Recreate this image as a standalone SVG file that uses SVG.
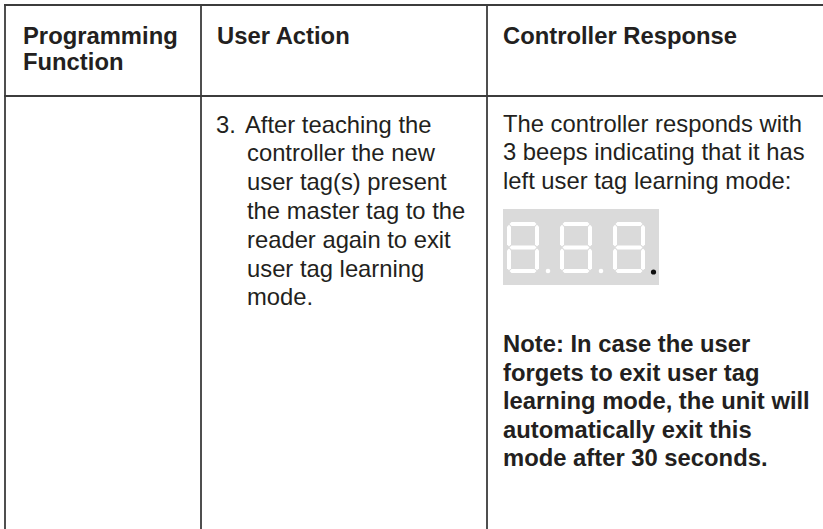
<svg xmlns="http://www.w3.org/2000/svg" width="823" height="529" viewBox="0 0 823 529">
<style>
  .grid line { stroke: #3c3c3c; stroke-width: 1.8; }
  .t { font-family: "Liberation Sans", Arial, sans-serif; font-size: 23.8px; fill: #231f20; }
  .b { font-weight: bold; }
  .seg { fill: #ffffff; }
</style>
<defs>
  <g id="digit8">
    <polygon class="seg" points="2.5,2 4.5,0 27.5,0 29.5,2 27.5,4 4.5,4"/>
    <polygon class="seg" points="2,2.8 4,4.8 4,22.5 2,24.5 0,22.5 0,4.8"/>
    <polygon class="seg" points="30,2.8 32,4.8 32,22.5 30,24.5 28,22.5 28,4.8"/>
    <polygon class="seg" points="2.5,25.5 4.5,23.5 27.5,23.5 29.5,25.5 27.5,27.5 4.5,27.5"/>
    <polygon class="seg" points="2,26.5 4,28.5 4,46.2 2,48.2 0,46.2 0,28.5"/>
    <polygon class="seg" points="30,26.5 32,28.5 32,46.2 30,48.2 28,46.2 28,28.5"/>
    <polygon class="seg" points="2.5,49 4.5,47 27.5,47 29.5,49 27.5,51 4.5,51"/>
  </g>
</defs>
<rect width="823" height="529" fill="#ffffff"/>
<g id="connectors" class="grid">
  <line x1="4" y1="5" x2="823" y2="5"/>
  <line x1="4" y1="96" x2="823" y2="96"/>
  <line x1="5" y1="5" x2="5" y2="529"/>
  <line x1="201" y1="5" x2="201" y2="529"/>
  <line x1="487" y1="5" x2="487" y2="529"/>
</g>
<g id="header-function">
  <text class="t b" x="23" y="44">Programming</text>
  <text class="t b" x="23" y="70">Function</text>
</g>
<g id="header-action">
  <text class="t b" x="217" y="44">User Action</text>
</g>
<g id="header-response">
  <text class="t b" x="503" y="44">Controller Response</text>
</g>
<g id="cell-function"></g>
<g id="cell-action">
  <text class="t" x="216" y="132.5">3.</text>
  <text class="t" x="245" y="132.5">After teaching the</text>
  <text class="t" x="247" y="161.3">controller the new</text>
  <text class="t" x="247" y="190.1">user tag(s) present</text>
  <text class="t" x="247" y="218.9">the master tag to the</text>
  <text class="t" x="247" y="247.7">reader again to exit</text>
  <text class="t" x="247" y="276.5">user tag learning</text>
  <text class="t" x="247" y="305.3">mode.</text>
</g>
<g id="cell-response">
  <text class="t" x="503" y="132">The controller responds with</text>
  <text class="t" x="503" y="160.4">3 beeps indicating that it has</text>
  <text class="t" x="503" y="188.8">left user tag learning mode:</text>
  <g id="display">
    <rect x="503" y="209" width="156" height="76" fill="#dadada"/>
    <use href="#digit8" x="507" y="222"/>
    <circle cx="548" cy="271" r="2.3" fill="#ffffff"/>
    <use href="#digit8" x="560" y="222"/>
    <circle cx="601" cy="271" r="2.3" fill="#ffffff"/>
    <use href="#digit8" x="613" y="222"/>
    <circle cx="653.5" cy="272" r="2.6" fill="#111111"/>
  </g>
  <text class="t b" x="503" y="352">Note: In case the user</text>
  <text class="t b" x="503" y="380.5">forgets to exit user tag</text>
  <text class="t b" x="503" y="409">learning mode, the unit will</text>
  <text class="t b" x="503" y="437.5">automatically exit this</text>
  <text class="t b" x="503" y="466">mode after 30 seconds.</text>
</g>
</svg>
